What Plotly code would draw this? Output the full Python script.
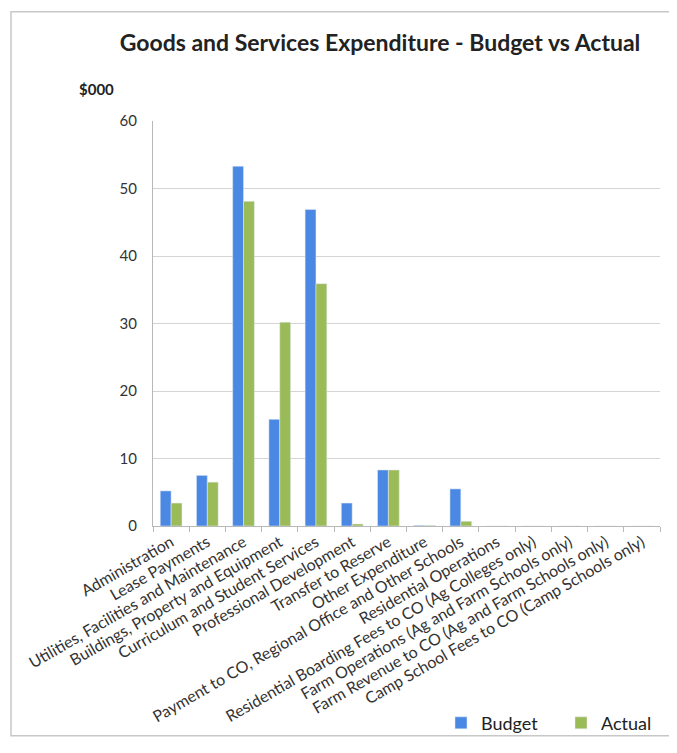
import plotly.graph_objects as go

categories = [
    "Administration",
    "Lease Payments",
    "Utilities, Facilities and Maintenance",
    "Buildings, Property and Equipment",
    "Curriculum and Student Services",
    "Professional Development",
    "Transfer to Reserve",
    "Other Expenditure",
    "Payment to CO, Regional Office and Other Schools",
    "Residential Operations",
    "Residential Boarding Fees to CO (Ag Colleges only)",
    "Farm Operations (Ag and Farm Schools only)",
    "Farm Revenue to CO (Ag and Farm Schools only)",
    "Camp School Fees to CO (Camp Schools only)",
]
budget = [5.2, 7.5, 53.3, 15.8, 46.9, 3.4, 8.3, 0.1, 5.5, 0, 0, 0, 0, 0]
actual = [3.4, 6.5, 48.1, 30.2, 35.9, 0.3, 8.3, 0.1, 0.7, 0, 0, 0, 0, 0]
y_ticks = [0, 10, 20, 30, 40, 50, 60]

FONT = "Lato"

# page is offset by the 8px body margin, so figure coords = page coords - 8
W, H = 669, 745
L, R, T, B = 145, 17, 113, 217
pw = W - L - R
ph = H - T - B


def px_x(x):
    return (x - L) / pw


def px_y(y):
    return (H - B - y) / ph


fig = go.Figure()
fig.add_trace(go.Bar(name="Budget", x=categories, y=budget, marker_color="#4A88E4",
                     legend="legend"))
fig.add_trace(go.Bar(name="Actual", x=categories, y=actual, marker_color="#9BBB59",
                     legend="legend2"))

fig.update_layout(
    width=W, height=H,
    margin=dict(l=L, r=R, t=T, b=B),
    paper_bgcolor="white", plot_bgcolor="white",
    font=dict(family=FONT, color="#333333"),
    barmode="group", bargap=0.4, bargroupgap=0,
    title=dict(text="<b>Goods and Services Expenditure - Budget vs Actual</b>",
               x=372 / W, xanchor="center", y=1 - 35 / H, yanchor="middle",
               font=dict(size=23, color="#222222", family=FONT)),
    showlegend=True,
    legend=dict(x=px_x(433), xanchor="left", y=px_y(730), yanchor="middle",
                font=dict(size=18, color="#222222"), itemwidth=30,
                bgcolor="rgba(0,0,0,0)"),
    legend2=dict(x=px_x(553), xanchor="left", y=px_y(730), yanchor="middle",
                 font=dict(size=18, color="#222222"), itemwidth=30,
                 bgcolor="rgba(0,0,0,0)"),
    xaxis=dict(type="category", tickangle=-30, tickfont=dict(size=16, color="#333333"),
               showline=True, linecolor="#b8b8b8", ticks="outside", tickson="boundaries",
               ticklen=5, tickcolor="#b8b8b8", showgrid=False, automargin=False),
    yaxis=dict(range=[0, 60], tickvals=y_ticks, showline=True, linecolor="#b8b8b8",
               gridcolor="#d4d4d4", tickfont=dict(size=15, color="#333333"),
               ticks="", ticklabelstandoff=12, zeroline=False, automargin=False),
    shapes=[dict(type="rect", xref="paper", yref="paper",
                 x0=px_x(3), x1=px_x(662), y0=px_y(743), y1=px_y(1),
                 line=dict(color="#c8c8c8", width=1.5), fillcolor="rgba(0,0,0,0)")],
    annotations=[dict(text="<b>$000</b>", xref="paper", yref="paper",
                      x=px_x(88), y=px_y(80), xanchor="center", yanchor="middle",
                      showarrow=False, font=dict(size=15, color="#222222"))],
)

fig.write_html("out.html")
